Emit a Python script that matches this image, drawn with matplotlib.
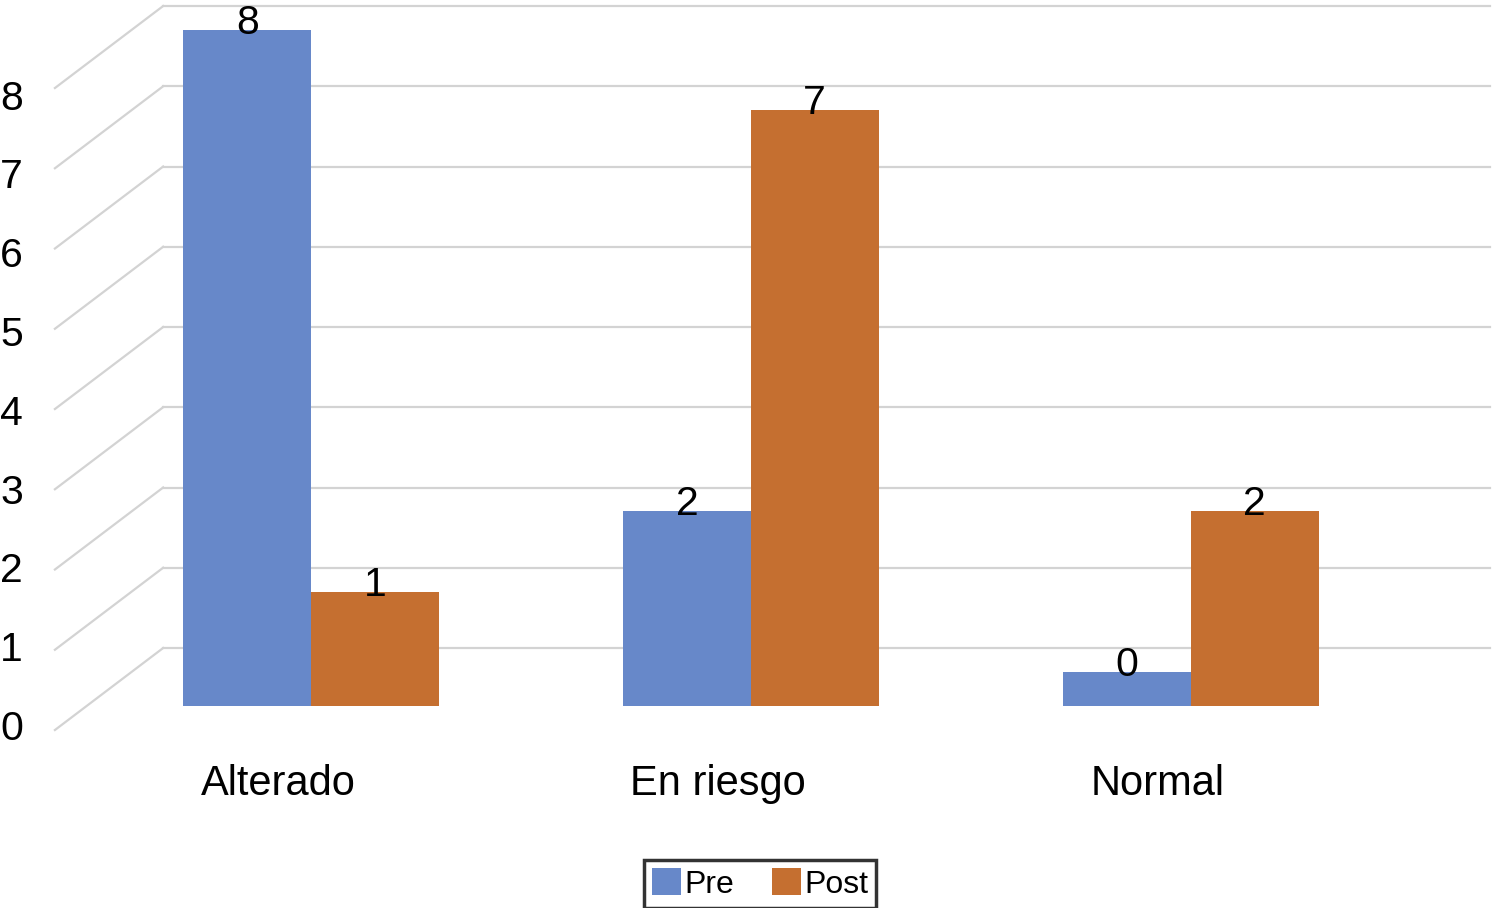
import matplotlib.pyplot as plt
import numpy as np

categorias = ['Alterado', 'En riesgo', 'Normal']
pre = [8, 2, 0]
post = [1, 7, 2]
ticks_y = [0, 1, 2, 3, 4, 5, 6, 7, 8]

azul = '#6788C9'
naranja = '#C56F30'
gris = '#D3D3D3'

plt.rcParams['font.family'] = ['Liberation Sans', 'DejaVu Sans']

fig = plt.figure(figsize=(14.95, 9.08), dpi=100)
ax = fig.add_axes([0, 0, 1, 1])
# px -> datos: x = (px - 311) / 440, y = (672 - py) / 80.25
ax.set_xlim(-311 / 440, (1495 - 311) / 440)
ax.set_ylim((672 - 908) / 80.25, 672 / 80.25)
ax.axis('off')

# pseudo 3D: pared del fondo y diagonales laterales
x_frente, x_fondo, x_fin = -0.582, -0.336, 2.68
d_frente, d_fondo = -0.723, 0.299
for t in ticks_y:
    ax.plot([x_fondo, x_fin], [t + d_fondo, t + d_fondo], color=gris, lw=1.6, zorder=1)
    ax.plot([x_frente, x_fondo], [t + d_frente, t + d_fondo], color=gris, lw=1.6, zorder=1)
    ax.text(-311 / 440, -0.71 + t * 0.982, str(t), fontsize=29.5, ha='left', va='center')

x = np.arange(len(categorias))
w = 0.29
base = -0.42
b1 = ax.bar(x - w, np.array(pre) - base, w, bottom=base, align='edge', color=azul, zorder=3, label='Pre')
b2 = ax.bar(x, np.array(post) - base, w, bottom=base, align='edge', color=naranja, zorder=3, label='Post')

for xi, v in zip(x, pre):
    ax.text(xi - w / 2, v + 0.09, str(v), fontsize=29.5, ha='center', va='center', zorder=4)
for xi, v in zip(x, post):
    ax.text(xi + w / 2, v + 0.09, str(v), fontsize=29.5, ha='center', va='center', zorder=4)

for xi, c in zip(x, categorias):
    ax.text(xi - 0.075, -1.40, c, fontsize=30, ha='center', va='center')

leg = fig.legend(handles=[b1, b2], loc='center', bbox_to_anchor=(760 / 1495, 1 - 884 / 908),
                 ncol=2, fontsize=23, frameon=True, fancybox=False, handlelength=0.9,
                 handleheight=0.9, handletextpad=0.1, columnspacing=1.2, borderpad=0.25,
                 borderaxespad=0)
leg.get_frame().set_edgecolor('black')
leg.get_frame().set_linewidth(2.5)

plt.savefig('out.png', dpi=100)
